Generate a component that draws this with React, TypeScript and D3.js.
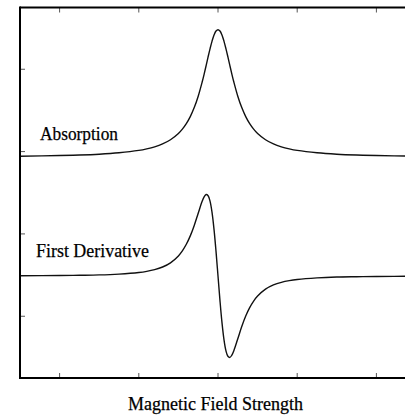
import React from 'react';
import * as d3 from 'd3';

// field values (arbitrary units)
const fieldX = [-0.5, 0, 0.25, 0.5, 0.75, 1.0, 1.1, 1.2, 1.3, 1.4, 1.5, 1.55, 1.6, 1.65, 1.7, 1.75, 1.8, 1.825, 1.85, 1.875, 1.9, 1.925, 1.95, 1.975, 2.0, 2.025, 2.05, 2.075, 2.1, 2.125, 2.15, 2.175, 2.2, 2.25, 2.3, 2.35, 2.4, 2.45, 2.5, 2.6, 2.7, 2.8, 2.9, 3.0, 3.25, 3.5, 3.75, 4.0, 4.5];
const absorption = [1.944, 1.952, 1.958, 1.968, 1.985, 2.014, 2.033, 2.058, 2.093, 2.144, 2.22, 2.273, 2.34, 2.425, 2.534, 2.673, 2.845, 2.941, 3.044, 3.15, 3.251, 3.342, 3.416, 3.464, 3.48, 3.464, 3.416, 3.342, 3.251, 3.15, 3.044, 2.941, 2.845, 2.673, 2.534, 2.425, 2.34, 2.273, 2.22, 2.144, 2.093, 2.058, 2.033, 2.014, 1.985, 1.968, 1.958, 1.952, 1.944];
const derivative = [0.492, 0.495, 0.498, 0.502, 0.512, 0.531, 0.545, 0.566, 0.598, 0.649, 0.733, 0.794, 0.874, 0.976, 1.103, 1.251, 1.396, 1.45, 1.478, 1.464, 1.395, 1.259, 1.053, 0.788, 0.489, 0.19, -0.075, -0.281, -0.417, -0.486, -0.5, -0.472, -0.418, -0.273, -0.125, 0.002, 0.104, 0.184, 0.245, 0.329, 0.38, 0.412, 0.433, 0.447, 0.466, 0.476, 0.48, 0.483, 0.486];

const xTicks = [0, 1, 2, 3, 4];
const yTicks = [0, 1, 2, 3];

const labels = [
  { text: 'Absorption', x: 40, y: 140, len: 78 },
  { text: 'First Derivative', x: 36, y: 257, len: 113 },
];
const xTitle = 'Magnetic Field Strength';

const W = 405;
const H = 415;
const left = 20, top = 7.5, bottom = 378, right = 416;

export default function App() {
  const x = d3.scaleLinear().domain([-0.5, 4.5]).range([left, right]);
  const y = d3.scaleLinear().domain([-0.75, 3.75]).range([bottom, top]);

  const line = d3.line<[number, number]>()
    .x(d => x(d[0]))
    .y(d => y(d[1]))
    .curve(d3.curveCatmullRom.alpha(0.5));

  const absPath = line(fieldX.map((v, i) => [v, absorption[i]] as [number, number]));
  const derPath = line(fieldX.map((v, i) => [v, derivative[i]] as [number, number]));

  const font = 'Liberation Serif, DejaVu Serif, serif';

  return (
    <svg width={W} height={H} style={{ position: 'absolute', left: 0, top: 0, background: '#fff' }}>
      <defs>
        <clipPath id="plot">
          <rect x={left} y={top} width={right - left} height={bottom - top} />
        </clipPath>
      </defs>
      <g clipPath="url(#plot)" fill="none" stroke="#111" strokeWidth={1.4}>
        <path d={absPath || ''} />
        <path d={derPath || ''} />
      </g>

      {/* ticks */}
      <g stroke="#555" strokeWidth={1}>
        {xTicks.map(t => (
          <g key={'x' + t}>
            <line x1={x(t)} x2={x(t)} y1={bottom} y2={bottom - 5} />
            <line x1={x(t)} x2={x(t)} y1={top} y2={top + 5} />
          </g>
        ))}
        {yTicks.map(t => (
          <line key={'y' + t} x1={left} x2={left + 5} y1={y(t)} y2={y(t)} />
        ))}
      </g>

      {/* frame */}
      <g stroke="#000" strokeWidth={2} fill="none">
        <line x1={left} x2={right} y1={top} y2={top} />
        <line x1={left} x2={right} y1={bottom} y2={bottom} />
        <line x1={left} x2={left} y1={top - 1} y2={bottom + 1} />
      </g>

      <g fill="#000" stroke="#000" strokeWidth={0.25}>
        {labels.map(l => (
          <text key={l.text} x={l.x} y={l.y} fontFamily={font} fontSize={19}
            textLength={l.len} lengthAdjust="spacingAndGlyphs">{l.text}</text>
        ))}
        <text x={128} y={410} fontFamily={font} fontSize={19} textLength={175}
          lengthAdjust="spacingAndGlyphs">{xTitle}</text>
      </g>
    </svg>
  );
}
